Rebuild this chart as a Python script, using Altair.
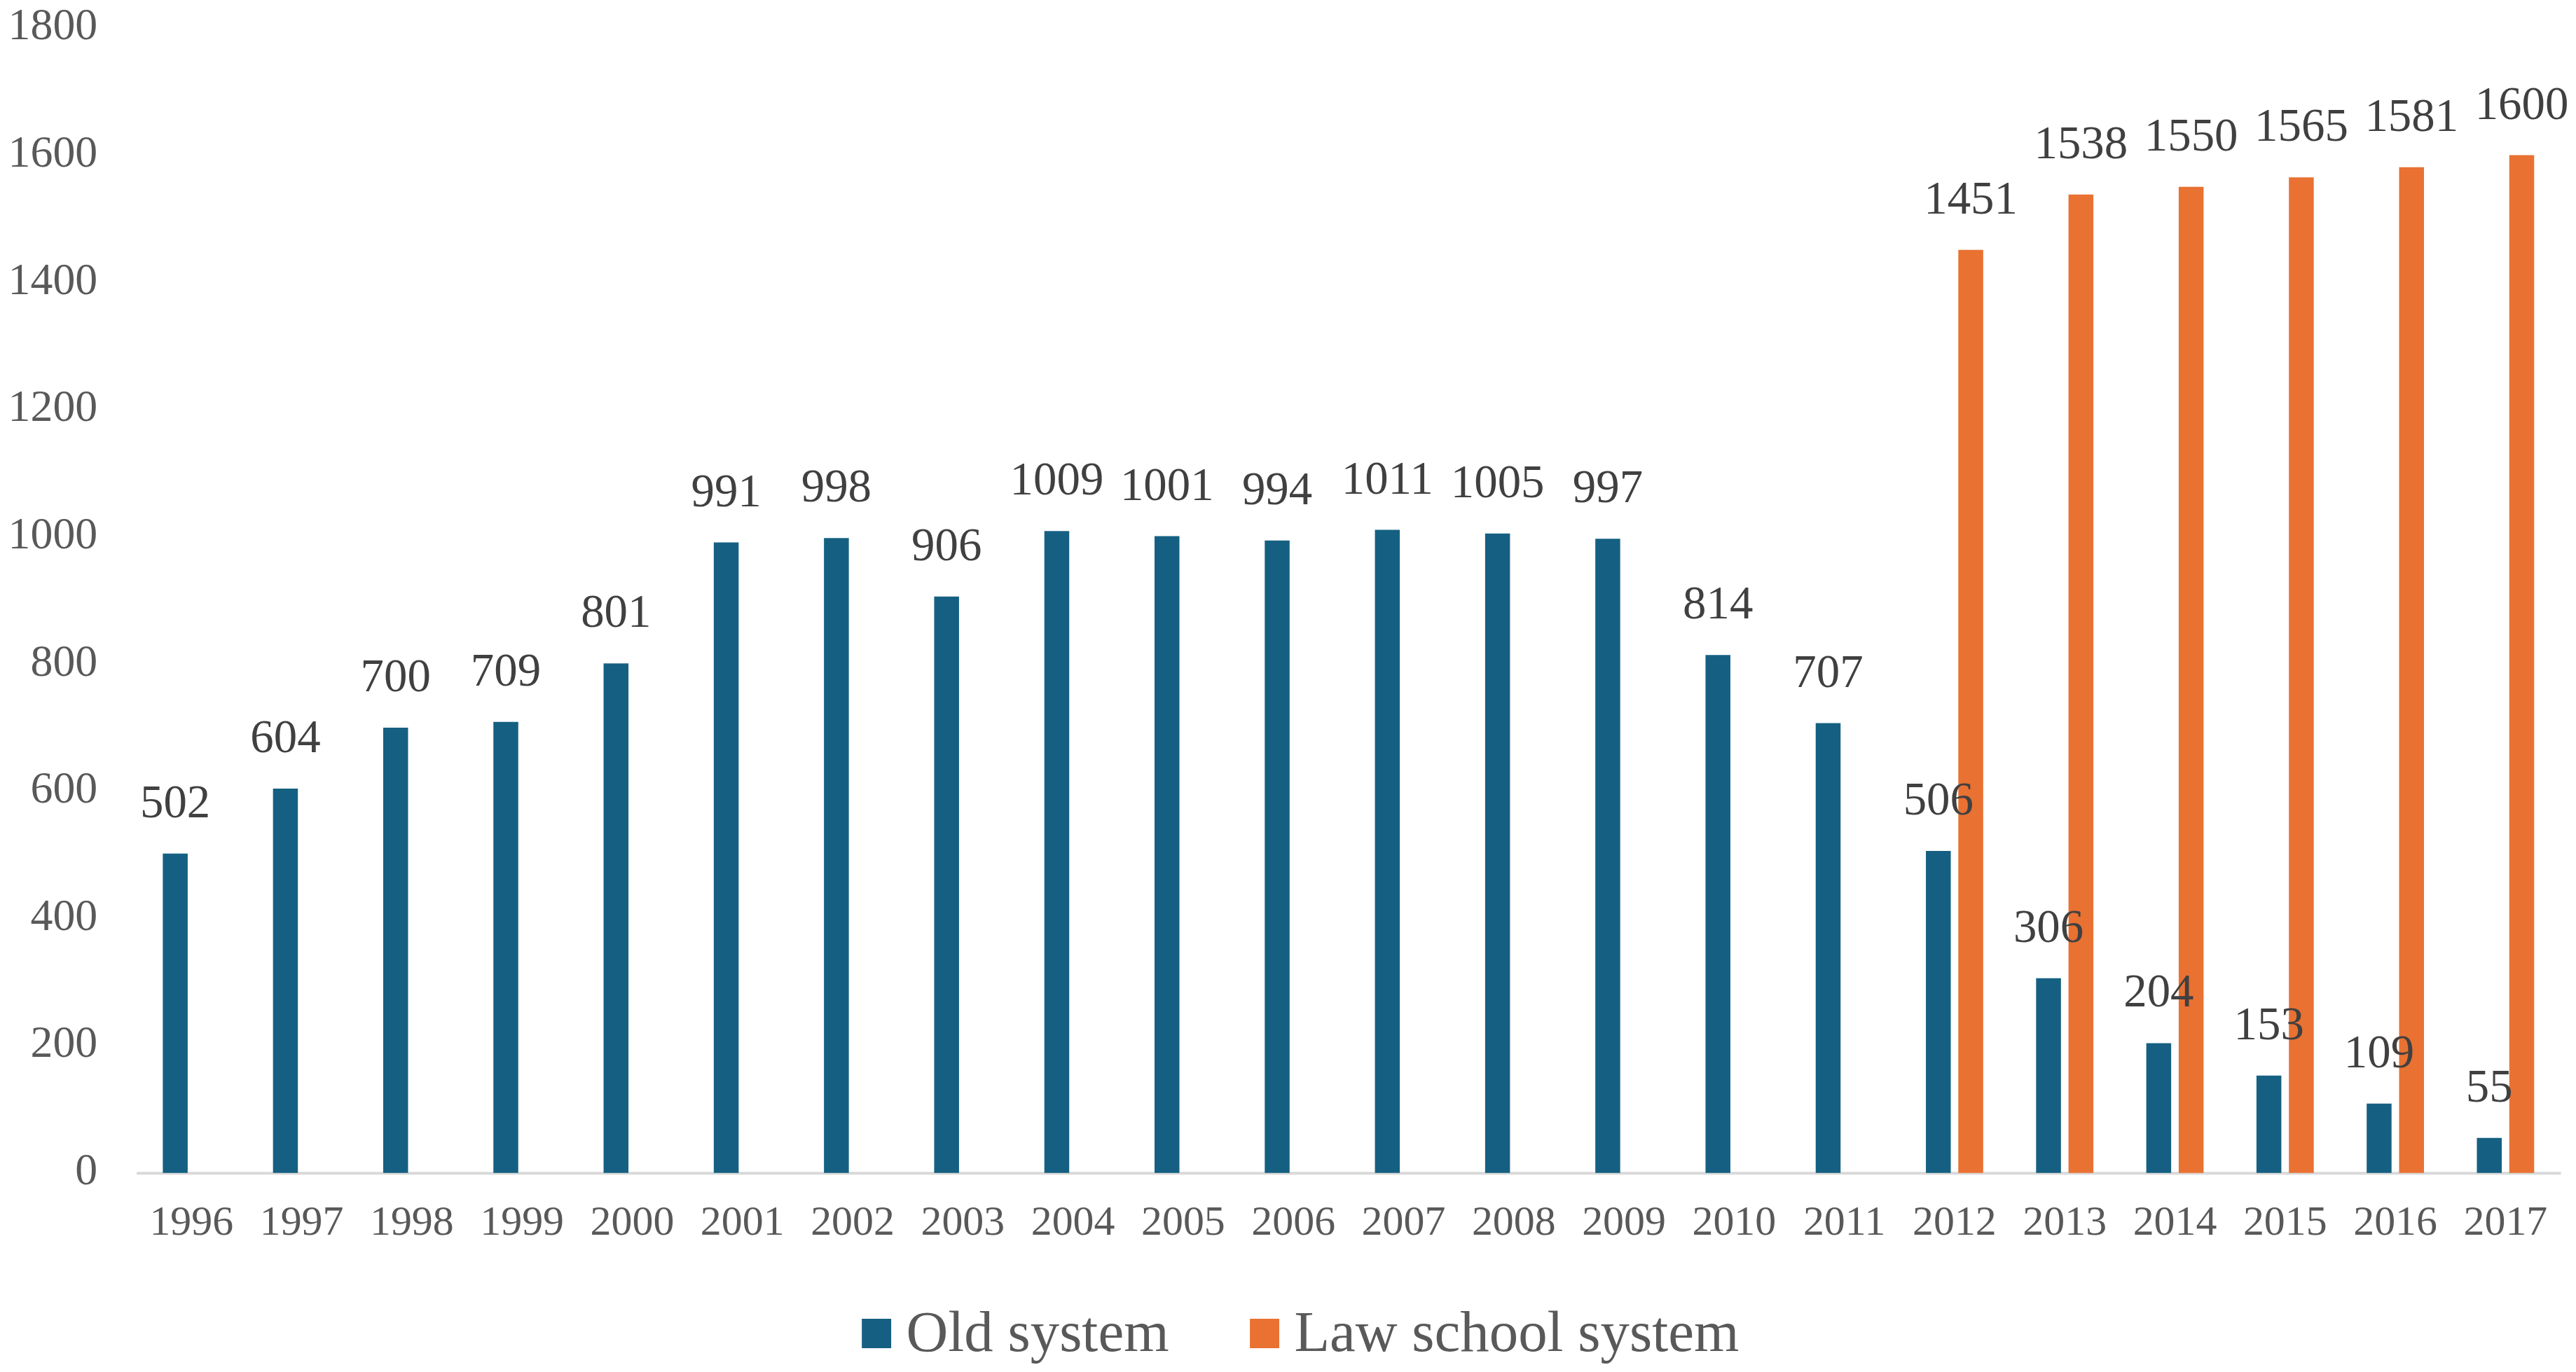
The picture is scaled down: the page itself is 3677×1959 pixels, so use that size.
import altair as alt
import pandas as pd

# Valores
anos = list(range(1996, 2018))
sistema_antigo = [502, 604, 700, 709, 801, 991, 998, 906, 1009, 1001, 994,
                  1011, 1005, 997, 814, 707, 506, 306, 204, 153, 109, 55]
anos_law_school = [2012, 2013, 2014, 2015, 2016, 2017]
law_school = [1451, 1538, 1550, 1565, 1581, 1600]
series = ["Old system", "Law school system"]
cores = ["#156082", "#E97132"]
ticks_y = [0, 200, 400, 600, 800, 1000, 1200, 1400, 1600, 1800]

# Tabela longa: ano, sistema, valor
linhas = [{"ano": str(a), "sistema": series[0], "valor": v} for a, v in zip(anos, sistema_antigo)]
linhas += [{"ano": str(a), "sistema": series[1], "valor": v} for a, v in zip(anos_law_school, law_school)]
df = pd.DataFrame(linhas)

fonte = "Liberation Serif"

base = alt.Chart(df).encode(
    x=alt.X("ano:O", title=None, sort=[str(a) for a in anos],
            scale=alt.Scale(paddingInner=0.48, paddingOuter=0.24),
            axis=alt.Axis(labelAngle=0, labelFont=fonte, labelFontSize=60, labelColor="#595959",
                          labelPadding=41, ticks=False, tickSize=0, domainColor="#D9D9D9",
                          domainWidth=4, grid=False)),
    xOffset=alt.XOffset("sistema:N", sort=series,
                        scale=alt.Scale(domain=series, paddingInner=0.233, paddingOuter=0)),
    y=alt.Y("valor:Q", title=None,
            scale=alt.Scale(domain=[0, 1800], nice=False),
            axis=alt.Axis(values=ticks_y, format="d", labelFont=fonte, labelFontSize=64,
                          labelColor="#595959", labelPadding=56, labelOffset=-3, ticks=False,
                          tickSize=0, domain=False, grid=False)),
)

# Barras agrupadas
barras = base.mark_bar().encode(
    color=alt.Color("sistema:N", sort=series,
                    scale=alt.Scale(domain=series, range=cores),
                    legend=alt.Legend(title=None, orient="none", legendX=1017, legendY=1826,
                                      direction="horizontal", symbolType="square", symbolSize=1764,
                                      symbolStrokeWidth=0, labelFont=fonte, labelFontSize=83,
                                      labelColor="#595959", labelOffset=1, labelLimit=0,
                                      columnPadding=95, padding=0)),
)

# Rótulos de valor acima das barras
rotulos = base.mark_text(font=fonte, fontSize=67, color="#404040", align="center",
                         baseline="alphabetic", dy=-52).encode(
    text=alt.Text("valor:Q"),
)

chart = alt.layer(barras, rotulos).properties(
    width=3467, height=1638,
    autosize=alt.AutoSizeParams(type="none"),
    padding={"left": 187, "top": 30, "right": 14, "bottom": 273},
).configure_view(stroke=None)

chart.save("out.html", embed_options={"renderer": "svg", "actions": False})
